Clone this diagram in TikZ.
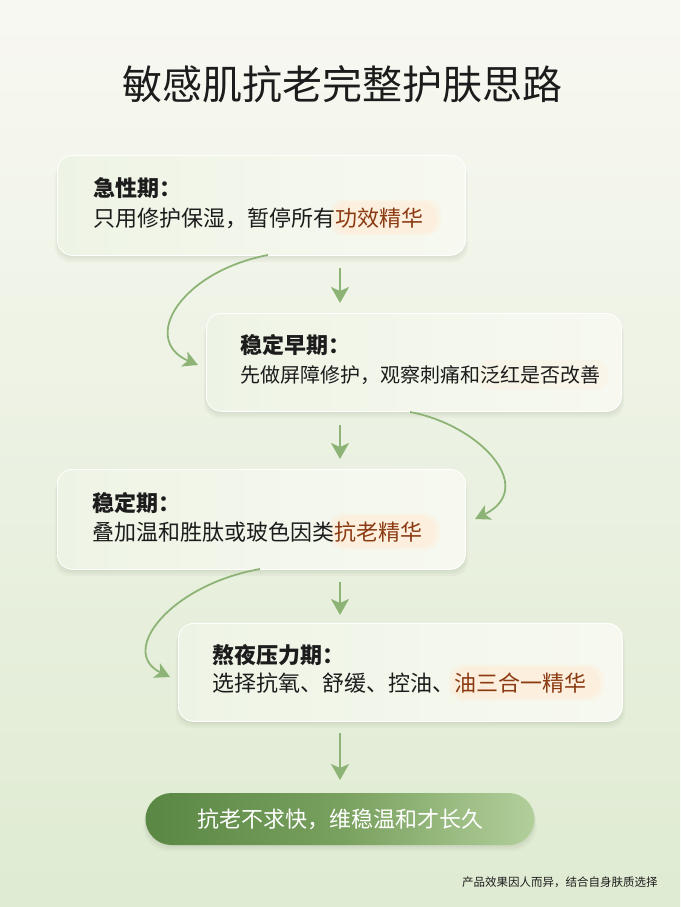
\documentclass[tikz,border=0pt]{standalone}
\usepackage{fontspec}
\setmainfont{Noto Sans CJK SC}
\usetikzlibrary{arrows.meta,shadows,calc}
\definecolor{bgtop}{HTML}{F8F8F2}
\definecolor{bgbot}{HTML}{DFEBD2}
\definecolor{boxl}{HTML}{EEF4E5}
\definecolor{boxr}{HTML}{F7F9F1}
\definecolor{arr}{HTML}{8DB476}
\definecolor{hlbg}{HTML}{FDEEDB}
\definecolor{hltx}{HTML}{8B3A12}
\definecolor{txt}{HTML}{1C1C1C}
\definecolor{pillL}{HTML}{5A8744}
\definecolor{pillM}{HTML}{78A05E}
\definecolor{pillR}{HTML}{B2CF9B}
\definecolor{shd}{HTML}{3F5A30}
\pgfdeclarelayer{bgl}
\pgfdeclarelayer{hll}
\pgfsetlayers{bgl,hll,main}
\begin{document}
\begin{tikzpicture}[x=1pt,y=-1pt,
  soft/.style={
    general shadow={shadow xshift=0pt, shadow yshift=-6pt, shadow scale=1.012, opacity=0.035, fill=shd},
    general shadow={shadow xshift=0pt, shadow yshift=-4pt, shadow scale=1.006, opacity=0.045, fill=shd},
    general shadow={shadow xshift=0pt, shadow yshift=-2pt, opacity=0.05, fill=shd}},
  card/.style={rectangle, rounded corners=15pt, left color=boxl, right color=boxr,
    draw=white, line width=0.8pt, anchor=north west, soft},
  head/.style={anchor=base west, inner sep=0pt, font=\fontsize{22}{26}\selectfont\bfseries, text=txt},
  body/.style={anchor=base west, inner sep=0pt, font=\fontsize{22}{26}\selectfont, text=txt},
  bodys/.style={anchor=base west, inner sep=0pt, font=\fontsize{20}{24}\selectfont, text=txt},
  hltext/.style={anchor=base west, inner sep=0pt, font=\fontsize{22}{26}\selectfont, text=hltx},
  hlfill/.style={fill=hlbg, rounded corners=14pt},
  flow/.style={draw=arr, line width=2pt, -{Stealth[length=16pt,width=18pt,inset=4pt]}},
  curv/.style={draw=arr, line width=1.8pt, -{Stealth[length=15pt,width=16pt,inset=4pt]}},
  pill/.style={rectangle, rounded corners=26pt, minimum width=389pt, minimum height=52pt,
    left color=pillL, right color=pillR, middle color=pillM, text=white,
    font=\fontsize{22}{26}\selectfont, soft},
]
\useasboundingbox (0,0) rectangle (680,907);
\begin{pgfonlayer}{bgl}
\shade[top color=bgtop, bottom color=bgbot] (0,0) rectangle (680,907);
\node[card, minimum width=408pt, minimum height=100pt] (b1) at (57,155) {};
\node[card, minimum width=415pt, minimum height=98pt] (b2) at (206,313) {};
\node[card, minimum width=408pt, minimum height=100pt] (b3) at (57,469) {};
\node[card, minimum width=444pt, minimum height=98pt] (b4) at (178,623) {};
\end{pgfonlayer}

% title
\node[anchor=base, inner sep=0pt, font=\fontsize{40}{46}\selectfont, text=txt] (title) at (342,99) {敏感肌抗老完整护肤思路};

% box 1
\node[head] (h1) at (93,196) {急性期：};
\node[body] (l1) at (93,226) {只用修护保湿，暂停所有};
\node[hltext] (k1) at (l1.base east) {功效精华};
% box 2
\node[head] (h2) at (240,353) {稳定早期：};
\node[bodys] (l2) at (240,382.5) {先做屏障修护，观察刺痛和};
\node[bodys] (k2) at (l2.base east) {泛红是否改善};
% box 3
\node[head] (h3) at (92,511) {稳定期：};
\node[body] (l3) at (92,540) {叠加温和胜肽或玻色因类};
\node[hltext] (k3) at (l3.base east) {抗老精华};
% box 4
\node[head] (h4) at (212,663) {熬夜压力期：};
\node[body] (l4) at (212,691) {选择抗氧、舒缓、控油、};
\node[hltext] (k4) at (l4.base east) {油三合一精华};

\begin{pgfonlayer}{hll}
\fill[hlfill, opacity=0.45] ($(k1.base west)+(-5,-26.5)$) rectangle ($(k1.base east)+(17,9.5)$);
\fill[hlfill, opacity=0.8] ($(k1.base west)+(-2,-24)$) rectangle ($(k1.base east)+(13,7)$);
\fill[hlfill, opacity=0.35] ($(k2.base west)+(-4,-23)$) rectangle ($(k2.base east)+(8,7)$);
\fill[hlfill, opacity=0.45] ($(k3.base west)+(-5,-26.5)$) rectangle ($(k3.base east)+(17,9.5)$);
\fill[hlfill, opacity=0.8] ($(k3.base west)+(-2,-24)$) rectangle ($(k3.base east)+(13,7)$);
\fill[hlfill, opacity=0.45] ($(k4.base west)+(-5,-26.5)$) rectangle ($(k4.base east)+(17,9.5)$);
\fill[hlfill, opacity=0.8] ($(k4.base west)+(-2,-24)$) rectangle ($(k4.base east)+(13,7)$);
\end{pgfonlayer}

% straight arrows
\coordinate (d1s) at (340,268); \coordinate (d1e) at (340,303);
\coordinate (d2s) at (340,425); \coordinate (d2e) at (340,459);
\coordinate (d3s) at (340,582); \coordinate (d3e) at (340,615);
\coordinate (d4s) at (340,733); \coordinate (d4e) at (340,780);
\draw[flow] (d1s) -- (d1e);
\draw[flow] (d2s) -- (d2e);
\draw[flow] (d3s) -- (d3e);
\draw[flow] (d4s) -- (d4e);

% curved arrows
\coordinate (c1s) at (268,255); \coordinate (c1e) at (198,365);
\coordinate (c2s) at (410,412); \coordinate (c2e) at (475,519);
\coordinate (c3s) at (260,569); \coordinate (c3e) at (170,677);
\draw[curv] (c1s) .. controls (180,272) and (140,340) .. (c1e);
\draw[curv] (c2s) .. controls (480,425) and (538,488) .. (c2e);
\draw[curv] (c3s) .. controls (170,585) and (118,652) .. (c3e);

% summary pill
\node[pill] (p) at (340,819) {抗老不求快，维稳温和才长久};

% footer
\node[anchor=base west, inner sep=0pt, font=\fontsize{11.5}{13}\selectfont, text=txt] (foot) at (462,886) {产品效果因人而异，结合自身肤质选择};
\end{tikzpicture}
\end{document}
